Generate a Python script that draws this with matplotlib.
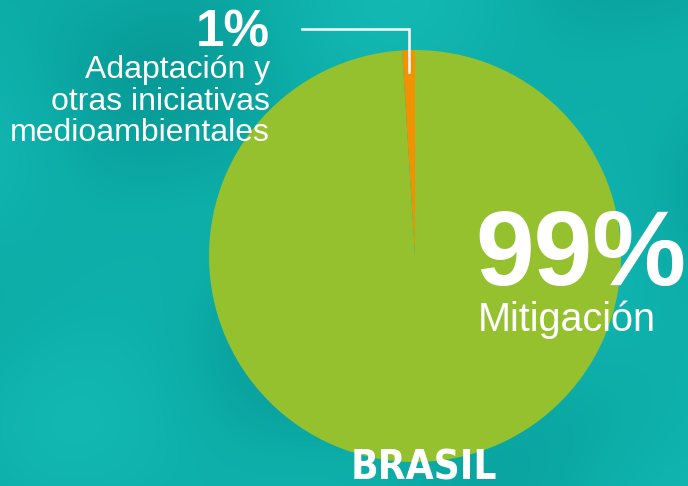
"""
Pie chart: financing split for Brasil (mitigation vs adaptation)
"""
import numpy as np
import matplotlib.pyplot as plt
from matplotlib import font_manager
from matplotlib.colors import LinearSegmentedColormap

##################################################
#-----------------Data----------------------------
##################################################

categories = ['Adaptación y\notras iniciativas\nmedioambientales', 'Mitigación']
shares = [1, 99]
pct_labels = ['1%', '99%']
country = 'BRASIL'

colors = ['#f39200', '#95c12f']
bg_color = '#0dada8'

##################################################
#-----------------Helpers-------------------------
##################################################

def pick_condensed_font():
    # narrow bold faces first, whatever is installed
    files = [f.fname for f in font_manager.fontManager.ttflist]
    for key in ('liberationsansnarrow-bold.', 'dejavusanscondensed-bold.',
                'narrow-bold', 'condensed-bold'):
        for fn in files:
            if key in fn.lower().replace(' ', '').replace('_', ''):
                return font_manager.FontProperties(fname=fn)
    return font_manager.FontProperties(family='Liberation Sans', weight='bold')

##################################################
#-----------------Plot----------------------------
##################################################

W, H = 688, 486
fig = plt.figure(figsize=(W / 100, H / 100), dpi=100)
fig.patch.set_facecolor(bg_color)
ax = fig.add_axes([0, 0, 1, 1])
ax.set_facecolor(bg_color)

# faint crumpled-paper shading in the background
yy, xx = np.mgrid[0:H:2, 0:W:2]
shade = (np.sin(xx / 90.0 + yy / 140.0) + 0.6 * np.sin(xx / 55.0 - yy / 70.0 + 1.3)
         + 0.4 * np.sin(yy / 40.0 + xx / 200.0))
paper = LinearSegmentedColormap.from_list('paper', ['#089c98', '#0dada8', '#13b8b3'])
ax.imshow(shade, extent=(0, W, 0, H), origin='lower', cmap=paper,
          interpolation='bicubic', zorder=0)

cx, cy, r = 415, 230, 206
wedges, _ = ax.pie(shares, colors=colors, startangle=90, counterclock=True,
                   center=(cx, cy), radius=r, frame=True,
                   wedgeprops={'linewidth': 0, 'zorder': 2})
ax.set_xlim(0, W)
ax.set_ylim(0, H)
ax.set_aspect('equal')
ax.axis('off')

# leader line from the small slice
w = wedges[0]
mid = np.deg2rad((w.theta1 + w.theta2) / 2)
px = cx + 0.95 * r * np.cos(mid)
py = cy + 0.95 * r * np.sin(mid)
top = H - 29
ax.plot([px, px, 302], [py - 12, top, top], color='white', lw=1.8,
        solid_joinstyle='miter', zorder=3)

font = 'Liberation Sans'
ax.text(270, H - 47, pct_labels[0], ha='right', va='baseline',
        fontsize=37, fontweight='bold', color='white', family=font, zorder=4)
ax.text(270, H - 141, categories[0], ha='right', va='baseline',
        fontsize=23, color='white', family=font, linespacing=1.06, zorder=4)

ax.text(686, H - 285, pct_labels[1], ha='right', va='baseline',
        fontsize=76, fontweight='bold', color='white', family=font, zorder=4)
ax.text(478, H - 331, categories[1], ha='left', va='baseline',
        fontsize=28.5, color='white', family=font, zorder=4)

# country name, sized to the width it takes in the original
fp = pick_condensed_font()
fp.set_size(40)
t = ax.text(424, H - 479, country, ha='center', va='baseline',
            color='white', fontproperties=fp, zorder=4)
fig.canvas.draw()
bb = t.get_window_extent()
fp.set_size(40 * 146 / bb.width)
t.set_fontproperties(fp)

plt.savefig('out.png', dpi=100, facecolor=bg_color)
